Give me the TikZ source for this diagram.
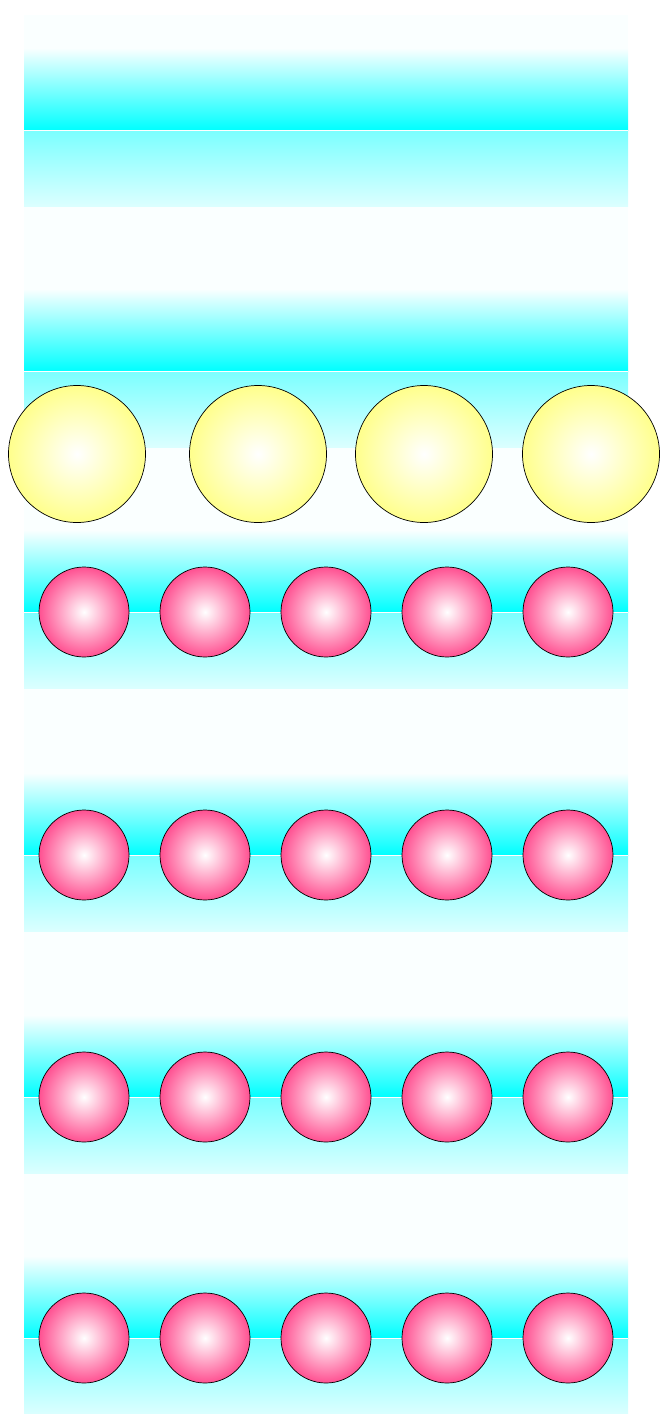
\documentclass[tikz,border=0pt]{standalone}
\usepackage{xcolor}
\usepackage{tikz}
\usetikzlibrary{positioning}

\definecolor{band}{RGB}{0,255,255}
\definecolor{ionpink}{RGB}{255,80,145}
\definecolor{ionyellow}{RGB}{255,255,140}

\begin{document}
\begin{tikzpicture}[
        x=1pt, y=-1pt,
        ion/.style={circle, draw, line width=0.7pt, inner sep=0pt},
        small ion/.style={ion, minimum size=90pt,
          inner color=white, outer color=ionpink},
        large ion/.style={ion, minimum size=137pt,
          inner color=white, outer color=ionyellow},
        seam/.style={white, line width=0.6pt},
      ]

      \useasboundingbox (0,0) rectangle (660,1414);

      % background of the cell
      \fill[band!2] (24,15) rectangle (628,1414);

      % density bands
      \foreach \c in {130,371,612,855,1097,1338} {
        \shade[top color=band!2, bottom color=band] (24,\c-82) rectangle (628,\c);
        \shade[top color=band!52, bottom color=band!14] (24,\c) rectangle (628,\c+76);
        \draw[seam] (24,\c) -- (628,\c);
      }

      % large ions
      \foreach \x [count=\i] in {77,258,424,591}
        \node[large ion] (y\i) at (\x,454) {};

      % small ions
      \foreach \y [count=\r] in {612,855,1097,1338}
        \foreach \x [count=\k] in {84,205,326,447,568}
          \node[small ion] (p\r\k) at (\x,\y) {};

    \end{tikzpicture}
\end{document}
